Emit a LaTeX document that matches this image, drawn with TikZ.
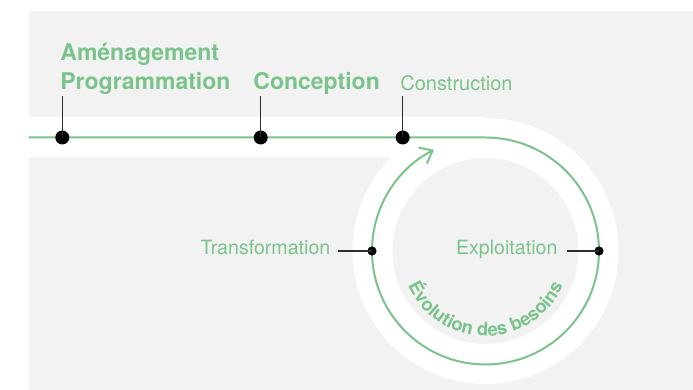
\documentclass[tikz,border=0pt]{standalone}
\usepackage{fontspec}
\setmainfont{TeX Gyre Heros}
\usetikzlibrary{arrows.meta,decorations.text}
\definecolor{vert}{RGB}{122,195,139}
\definecolor{fond}{RGB}{242,242,242}
\definecolor{trait}{RGB}{45,45,45}

\begin{document}
\begin{tikzpicture}[x=0.5pt, y=0.5pt,
	gros/.style={fill=black, circle, inner sep=0pt, minimum size=7pt},
	petit/.style={fill=black, circle, inner sep=0pt, minimum size=4.6pt},
	titre/.style={inner sep=0pt, text=vert, font=\fontsize{11.5}{13}\selectfont\bfseries},
	etape/.style={inner sep=0pt, text=vert, font=\fontsize{9.8}{12}\selectfont},
	tige/.style={color=trait, line width=0.65pt}]
	\useasboundingbox (0,0) rectangle (693,390);
	\fill[fond] (29,0) rectangle (693,379);
	% bande blanche
	\draw[white, line width=20pt] (29,252.5) -- (485.5,252.5);
	\draw[white, line width=20pt] (485.5,139) circle[radius=113];
	\coordinate (centre) at (485.5,139);
	\coordinate (debut) at (29,252.5);
	\coordinate (haut) at (485.5,252.5);
	\draw[vert, line width=1pt, -{Straight Barb[length=5.5pt,width=9pt,line width=1pt]}] (debut) -- (haut)
	  arc[start angle=90, end angle=-243, radius=113.5];
	% jalons
	\coordinate (tigeA) at (62.3,293.5);
	\coordinate (tigeB) at (260.7,293.5);
	\coordinate (tigeC) at (402.7,293.5);
	\coordinate (tigeT) at (338,139);
	\coordinate (tigeE) at (567,139);
	\node[gros] (amenagement) at (62.3,252.5) {};
	\node[gros] (conception) at (260.7,252.5) {};
	\node[gros] (construction) at (402.7,252.5) {};
	\node[petit] (transformation) at (372,139) {};
	\node[petit] (exploitation) at (599,139) {};
	\draw[tige] (tigeA) -- (amenagement.center);
	\draw[tige] (tigeB) -- (conception.center);
	\draw[tige] (tigeC) -- (construction.center);
	\draw[tige] (tigeT) -- (transformation.center);
	\draw[tige] (tigeE) -- (exploitation.center);
	\node[titre, anchor=base west] (l1) at (60,329) {Aménagement};
	\node[titre, anchor=base west] (l2) at (60,300) {Programmation};
	\node[titre, anchor=base west] (l3) at (253,300) {Conception};
	\node[etape, anchor=base west, font=\fontsize{10}{12}\selectfont] (l4) at (400,299) {Construction};
	\node[etape, anchor=base east] (l5) at (330.7,135) {Transformation};
	\node[etape, anchor=base west] (l6) at (455.7,135) {Exploitation};
	\path[decorate, decoration={text along path, text align=center, text color=vert,
	  text={|\fontsize{9.2}{10}\selectfont\bfseries|Évolution des besoins}}]
	  ([shift={(200:85)}]centre) arc[start angle=200, end angle=340, radius=85];
\end{tikzpicture}
\end{document}
